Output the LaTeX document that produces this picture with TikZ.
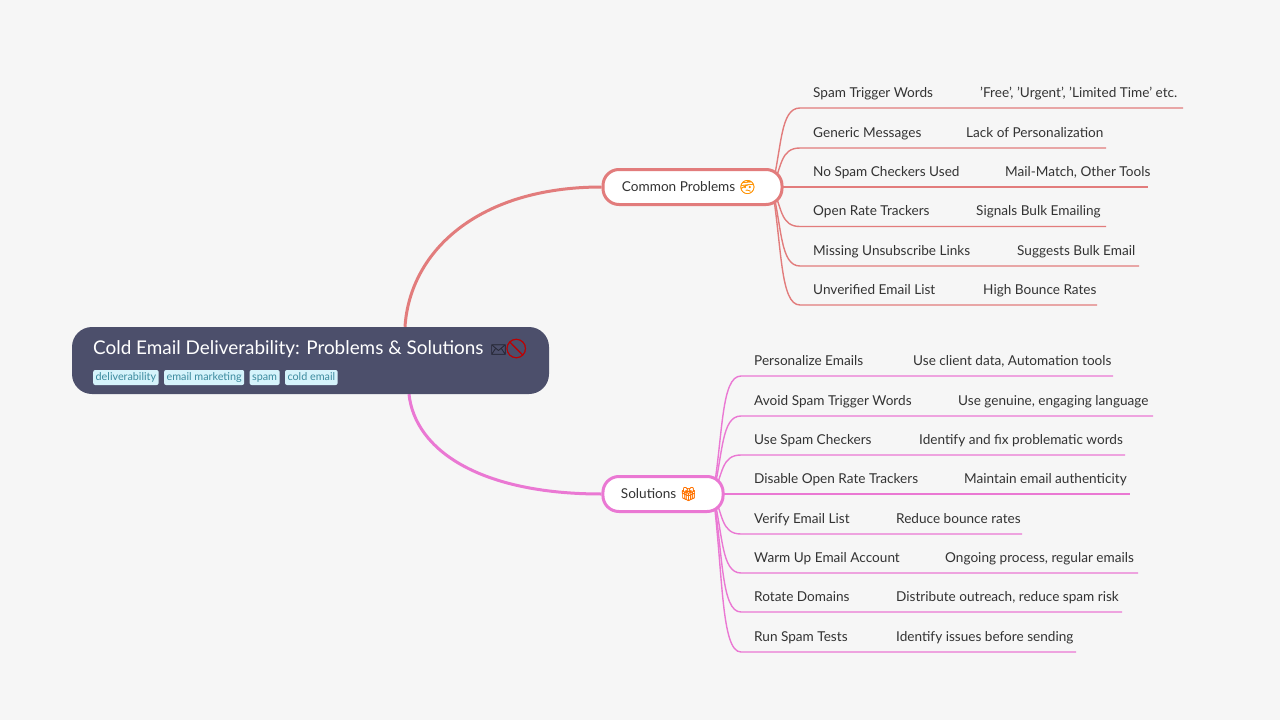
\documentclass[tikz,border=0pt]{standalone}
\usepackage{fontspec}
\setmainfont{Lato}
\newfontfamily\emoji[FakeBold=1.5]{Noto Emoji}
\usetikzlibrary{positioning}
\definecolor{pagebg}{HTML}{F6F6F6}
\definecolor{rootfill}{HTML}{4C4F6B}
\definecolor{tagfill}{HTML}{D5F3FB}
\definecolor{tagtext}{HTML}{3B8A9E}
\definecolor{inktext}{HTML}{333333}
\definecolor{probred}{HTML}{E27C7C}
\definecolor{solpink}{HTML}{EA78D3}
\pgfdeclarelayer{links}
\pgfsetlayers{links,main}
\tikzset{
  every node/.style={font=\fontsize{13.6}{17}\selectfont,text=inktext,inner sep=0pt},
  branch/.style={draw,fill=white,line width=3pt,rounded corners=16pt,minimum height=35pt,inner xsep=0pt,align=left},
  leaf/.style={anchor=base west},
  tag/.style={fill=tagfill,text=tagtext,rounded corners=2pt,font=\fontsize{10.8}{12}\selectfont,inner xsep=2.5pt,text height=8.5pt,text depth=2.5pt,minimum height=15pt},
  trunk/.style={line width=3pt},
  twig/.style={line width=1.4pt},
}
\begin{document}
\begin{tikzpicture}[x=1pt,y=-1pt]
  \useasboundingbox (0,0) rectangle (1280,720);
  \begin{pgfonlayer}{links}
    \fill[pagebg] (0,0) rectangle (1280,720);
  \end{pgfonlayer}

  % root and the two branches
  \node[fill=rootfill,rounded corners=20pt,minimum width=477pt,minimum height=67pt] (root) at (310.5,360.5) {};
  \node[anchor=base west,text=white,font=\fontsize{18.9}{24}\selectfont] (title) at (93,354) {Cold Email Deliverability: Problems \& Solutions};
  \node[anchor=base west,font=\emoji\fontsize{13}{16}\selectfont,text=rootfill!55!black] (mail) at (490,354) {✉};
  \node[anchor=base west,font=\emoji\fontsize{19}{20}\selectfont,text=red!75!black] (ban) at (504,355) {🚫};
  \node[tag,anchor=west] (tag1) at (93,377.5) {deliverability};
  \node[tag,right=5pt of tag1] (tag2) {email marketing};
  \node[tag,right=5pt of tag2] (tag3) {spam};
  \node[tag,right=5pt of tag3] (tag4) {cold email};
  \node[branch,draw=probred,minimum width=179pt] (prob) at (692.5,187) {\hspace*{18pt}Common Problems {\emoji\textcolor{orange!85!yellow}{🤕}}\hspace*{25pt}};
  \node[branch,draw=solpink,minimum width=120pt] (sol) at (663,494) {\hspace*{18pt}Solutions {\emoji\textcolor{orange!90!red}{🎁}}\hspace*{26pt}};

  \begin{pgfonlayer}{links}
    \draw[trunk,probred] ([xshift=94.5pt]root.north) .. controls +(5,-77) and (480,187) .. (prob.west);
    \draw[trunk,solpink] ([xshift=98.5pt]root.south) .. controls +(6,56) and (480,494) .. (sol.west);
  \end{pgfonlayer}

  % leaves of the upper branch
  \foreach \n/\ypos/\leaftext/\detail/\dx/\ex in {
    1/108/{Spam Trigger Words}/{'Free', 'Urgent', 'Limited Time' etc.}/980/1183,
    2/148/{Generic Messages}/{Lack of Personalization}/966/1106,
    3/187/{No Spam Checkers Used}/{Mail-Match, Other Tools}/1005/1148,
    4/226.5/{Open Rate Trackers}/{Signals Bulk Emailing}/976/1106,
    5/266/{Missing Unsubscribe Links}/{Suggests Bulk Email}/1017/1139,
    6/305/{Unverified Email List}/{High Bounce Rates}/983/1097}{
    \node[leaf] (p\n) at (813,\ypos-10.7) {\leaftext};
    \node[leaf] (pd\n) at (\dx,\ypos-10.7) {\detail};
    \coordinate (pe\n) at (\ex,\ypos);
    \begin{pgfonlayer}{links}
      \draw[twig,probred] ([xshift=-11.5pt]prob.east) .. controls +(10,{0.5*(\ypos-187)}) and (780,\ypos) .. (800,\ypos) -- (pe\n);
    \end{pgfonlayer}
  }

  % leaves of the lower branch
  \foreach \n/\ypos/\leaftext/\detail/\dx/\ex in {
    1/376/{Personalize Emails}/{Use client data, Automation tools}/913/1113,
    2/416/{Avoid Spam Trigger Words}/{Use genuine, engaging language}/958/1153,
    3/455/{Use Spam Checkers}/{Identify and fix problematic words}/919/1125,
    4/494/{Disable Open Rate Trackers}/{Maintain email authenticity}/964/1130,
    5/534/{Verify Email List}/{Reduce bounce rates}/896/1022,
    6/573/{Warm Up Email Account}/{Ongoing process, regular emails}/945/1138,
    7/612/{Rotate Domains}/{Distribute outreach, reduce spam risk}/896/1122,
    8/652/{Run Spam Tests}/{Identify issues before sending}/896/1076}{
    \node[leaf] (s\n) at (754,\ypos-10.7) {\leaftext};
    \node[leaf] (sd\n) at (\dx,\ypos-10.7) {\detail};
    \coordinate (se\n) at (\ex,\ypos);
    \begin{pgfonlayer}{links}
      \draw[twig,solpink] ([xshift=-11.5pt]sol.east) .. controls +(10,{0.5*(\ypos-494)}) and (721,\ypos) .. (741,\ypos) -- (se\n);
    \end{pgfonlayer}
  }
\end{tikzpicture}
\end{document}
